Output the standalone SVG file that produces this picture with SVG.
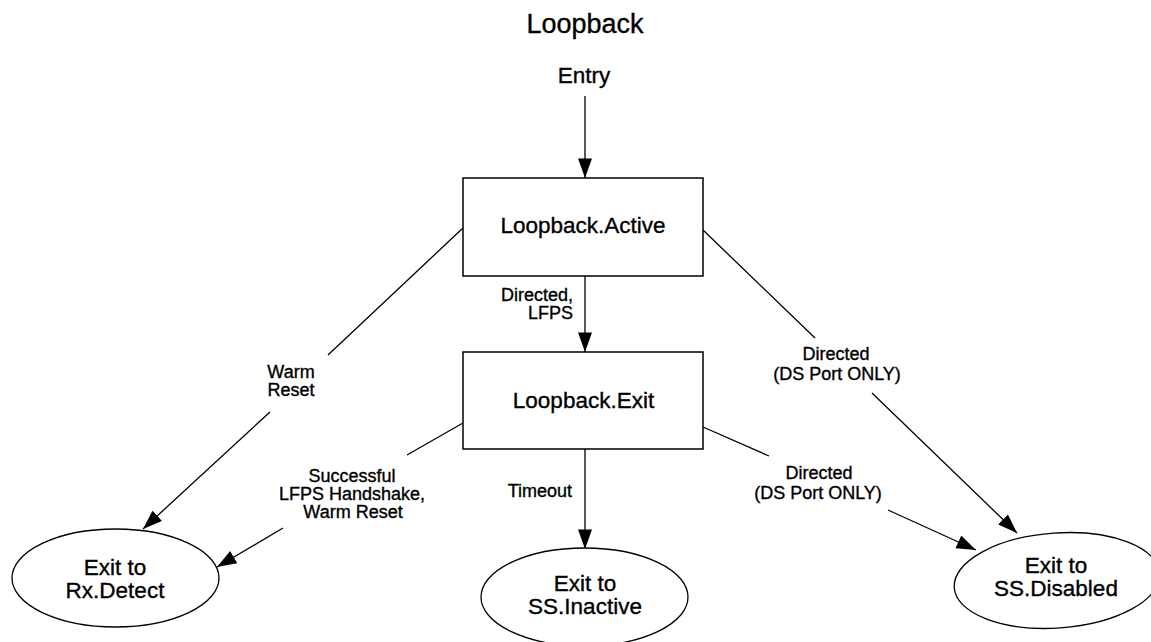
<svg xmlns="http://www.w3.org/2000/svg" width="1151" height="642" viewBox="0 0 1151 642">
<defs>
<marker id="arr" markerUnits="userSpaceOnUse" markerWidth="20" markerHeight="14" viewBox="0 0 18 13" refX="18" refY="6.5" orient="auto">
<path d="M0,0 L18,6.5 L0,13 Z" fill="#000"/>
</marker>
<style>
text{font-family:"Liberation Sans",Arial,sans-serif;fill:#000;stroke:#000;stroke-width:0.35}
.title{font-size:27px;text-anchor:middle}
.node{font-size:22.5px;text-anchor:middle}
.lbl{font-size:18px;text-anchor:middle}
.box{fill:#fff;stroke:#000;stroke-width:1.5}
.ell{fill:#fff;stroke:#000;stroke-width:1.3}
.ln{fill:none;stroke:#000;stroke-width:1.3}
</style>
</defs>
<rect width="1151" height="642" fill="#fff"/>
<text class="title" x="585" y="33">Loopback</text>
<g id="connectors">
<line class="ln" x1="585" y1="96" x2="585" y2="178" marker-end="url(#arr)"/>
<line class="ln" x1="585" y1="276" x2="585" y2="352" marker-end="url(#arr)"/>
<line class="ln" x1="585" y1="449" x2="585" y2="549" marker-end="url(#arr)"/>
<line class="ln" x1="463" y1="228" x2="328" y2="355"/>
<line class="ln" x1="270" y1="412" x2="143" y2="529" marker-end="url(#arr)"/>
<line class="ln" x1="463" y1="423" x2="407" y2="455"/>
<line class="ln" x1="283" y1="528" x2="217" y2="567" marker-end="url(#arr)"/>
<line class="ln" x1="703" y1="230" x2="815" y2="338"/>
<line class="ln" x1="872" y1="393" x2="1017" y2="533" marker-end="url(#arr)"/>
<line class="ln" x1="703" y1="427" x2="769" y2="456"/>
<line class="ln" x1="888" y1="510" x2="976" y2="550" marker-end="url(#arr)"/>
<text class="lbl" x="573" y="301" style="text-anchor:end">Directed,</text>
<text class="lbl" x="573" y="319" style="text-anchor:end">LFPS</text>
<text class="lbl" x="572" y="497" style="text-anchor:end">Timeout</text>
<text class="lbl" x="291" y="378">Warm</text>
<text class="lbl" x="291" y="396">Reset</text>
<text class="lbl" x="352" y="482">Successful</text>
<text class="lbl" x="352" y="500">LFPS Handshake,</text>
<text class="lbl" x="353" y="518">Warm Reset</text>
<text class="lbl" x="836" y="360">Directed</text>
<text class="lbl" x="837" y="380">(DS Port ONLY)</text>
<text class="lbl" x="819" y="479">Directed</text>
<text class="lbl" x="818" y="499">(DS Port ONLY)</text>
</g>
<g id="entry">
<text class="node" x="584" y="83">Entry</text>
</g>
<g id="loopback-active">
<rect class="box" x="463" y="178" width="240" height="98"/>
<text class="node" x="583" y="233">Loopback.Active</text>
</g>
<g id="loopback-exit">
<rect class="box" x="463" y="352" width="240" height="97"/>
<text class="node" x="583.5" y="408">Loopback.Exit</text>
</g>
<g id="exit-rx-detect">
<ellipse class="ell" cx="115.5" cy="578" rx="103.5" ry="49"/>
<text class="node" x="115" y="575">Exit to</text>
<text class="node" x="115" y="598">Rx.Detect</text>
</g>
<g id="exit-ss-inactive">
<ellipse class="ell" cx="584.5" cy="597" rx="103.5" ry="49"/>
<text class="node" x="585" y="591">Exit to</text>
<text class="node" x="585" y="614">SS.Inactive</text>
</g>
<g id="exit-ss-disabled">
<ellipse class="ell" cx="1057" cy="580.5" rx="103" ry="47.5" transform="rotate(-4 1057 580.5)"/>
<text class="node" x="1056" y="573">Exit to</text>
<text class="node" x="1056" y="596">SS.Disabled</text>
</g>
</svg>
